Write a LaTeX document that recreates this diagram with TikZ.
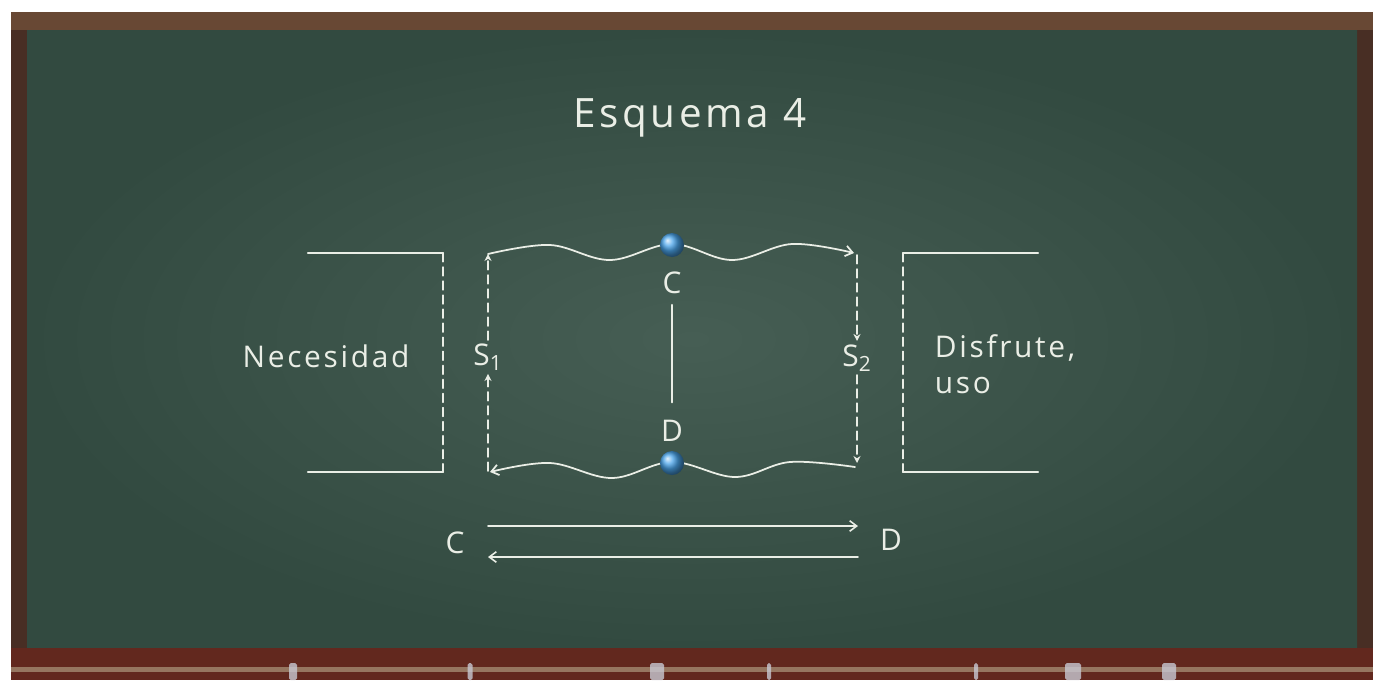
\documentclass[tikz,border=0pt]{standalone}
\usepackage{fontspec}
\setmainfont{Open Sans}
\newfontfamily\chalkfont[LetterSpace=9]{Open Sans}
\usetikzlibrary{arrows.meta,positioning,calc}
\definecolor{boarddark} {RGB}{ 50, 74, 64}
\definecolor{boardlight}{RGB}{ 70, 94, 84}
\definecolor{framewood} {RGB}{104, 72, 52}
\definecolor{framedark} {RGB}{ 72, 46, 36}
\definecolor{traywood}  {RGB}{ 98, 40, 30}
\definecolor{trayledge} {RGB}{150,118, 96}
\definecolor{chalk}     {RGB}{234,238,230}
\definecolor{chalkbit}  {RGB}{200,200,210}
\definecolor{ballblue}  {RGB}{ 75,165,235}
\tikzset{
  chalkline/.style={draw=chalk,line width=1.3pt,line cap=round},
  chalkarr/.style={chalkline,line width=0.9pt,-{Straight Barb[length=4pt,width=6pt]}},
  dashline/.style={chalkline,line width=0.9pt,dash pattern=on 5pt off 3pt},
  dasharr/.style={dashline,-{Stealth[length=4pt,width=4pt]}},
  wave/.style={chalkline,line width=1pt},
  lbl/.style={text=chalk,font=\chalkfont\fontsize{17}{20.5}\selectfont,inner sep=2pt},
  ttl/.style={text=chalk,font=\chalkfont\fontsize{23}{27}\selectfont},
  ball/.style={circle,minimum size=0.48cm,inner sep=0pt,shading=ball,
               ball color=ballblue},
}
\begin{document}
\begin{tikzpicture}[x=0.02cm,y=-0.02cm]
  \useasboundingbox (0,0) rectangle (1373,680);
  % board and frame
  \fill[white] (0,0) rectangle (1373,680);
  \fill[framewood] (11,12) rectangle (1373,680);
  \fill[framedark] (11,30) rectangle (27,648);
  \fill[framedark] (1357,30) rectangle (1373,648);
  \shade[inner color=boardlight,outer color=boarddark] (27,30) rectangle (1357,648);
  \fill[traywood] (11,648) rectangle (1373,680);
  \fill[trayledge] (11,667) rectangle (1373,672);
  \foreach \cx/\cw in {293/8,470/5,657/14,769/4,976/4,1073/16,1169/14}
    \fill[chalkbit,opacity=0.8,rounded corners=1pt] (\cx-\cw/2,663) rectangle (\cx+\cw/2,680);

  \node[ttl] (title) at (690,118) {Esquema 4};

  % left and right boxes
  \coordinate (nTL) at (308,253);
  \coordinate (nTR) at (443,253);
  \coordinate (nBR) at (443,472);
  \coordinate (nBL) at (308,472);
  \coordinate (dTL) at (903,253);
  \coordinate (dTR) at (1038,253);
  \coordinate (dBL) at (903,472);
  \coordinate (dBR) at (1038,472);
  \draw[chalkline] (nTL) -- (nTR);
  \draw[dashline] (nTR) -- (nBR);
  \draw[chalkline] (nBR) -- (nBL);
  \draw[chalkline] (dTR) -- (dTL);
  \draw[dashline] (dTL) -- (dBL);
  \draw[chalkline] (dBL) -- (dBR);
  \node[lbl] (nec) at (326,356) {Necesidad};
  \node[lbl,anchor=west,align=left] (dis) at (931,364) {Disfrute,\\uso};

  % circuit
  \coordinate (s1top) at (488,254);
  \coordinate (s1bot) at (488,471);
  \coordinate (s2top) at (857,255);
  \coordinate (s2bot) at (857,463);
  \coordinate (wtop) at (854,253);
  \coordinate (wbot) at (855,467);
  \coordinate (wend) at (490,472);
  \node[lbl] (S1) at (488,357) {S\textsubscript{1}};
  \node[lbl] (S2) at (857,358) {S\textsubscript{2}};
  \node[lbl] (Ctop) at (672,283) {C};
  \node[lbl] (Dmid) at (672,431) {D};

  \draw[dasharr] (s1bot) -- (S1);
  \draw[dasharr] (S1) -- (s1top);
  \draw[dasharr] (s2top) -- (S2);
  \draw[dasharr] (S2) -- (s2bot);

  \draw[wave,-{Straight Barb[length=4pt,width=6pt]}] plot[smooth,tension=0.6]
    coordinates {(s1top) (550,245) (610,260) (672,244) (732,260) (792,244) (wtop)};
  \draw[wave,-{Straight Barb[length=4pt,width=6pt]}] plot[smooth,tension=0.6]
    coordinates {(wbot) (790,462) (735,477) (672,462) (612,478) (550,463) (wend)};
  \draw[chalkline,line width=1pt,shorten <=4pt,shorten >=8pt] (Ctop) -- (Dmid);
  \node[ball] (bC) at (672,245) {};
  \node[ball] (bD) at (672,463) {};

  % bottom exchange
  \node[lbl] (Cb) at (455,543) {C};
  \node[lbl] (Db) at (891,540) {D};
  \coordinate (cdA) at (488,526);
  \coordinate (cdB) at (858,526);
  \coordinate (dcA) at (858,557);
  \coordinate (dcB) at (488,557);
  \draw[chalkarr] (cdA) -- (cdB);
  \draw[chalkarr] (dcA) -- (dcB);
\end{tikzpicture}
\end{document}
